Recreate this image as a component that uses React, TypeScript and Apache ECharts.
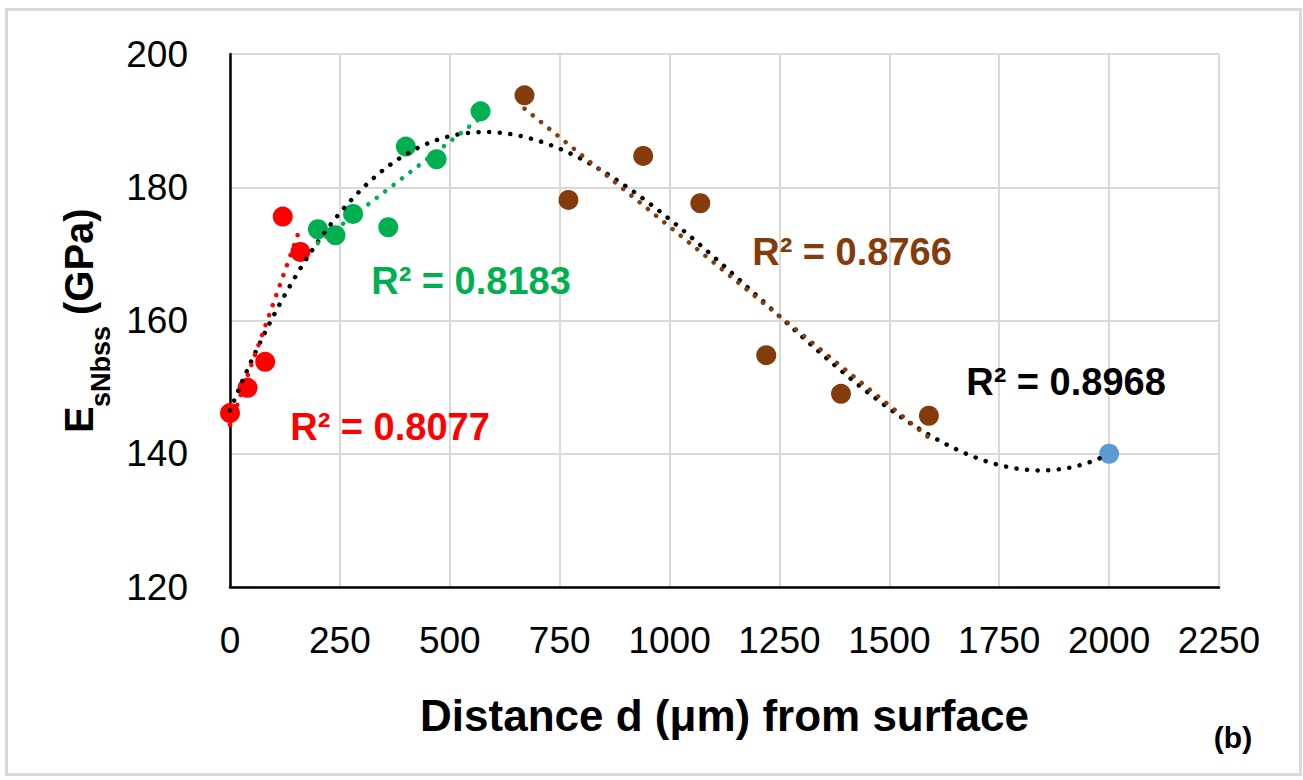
import React, { useEffect, useRef } from "react";
import * as echarts from "echarts";

// Measured elastic modulus vs depth, grouped by zone
const redX = [0, 40, 80, 120, 160];
const redY = [146.1, 149.9, 153.8, 175.6, 170.3];
const greenX = [200, 240, 280, 360, 400, 470, 570];
const greenY = [173.7, 172.8, 176.0, 174.0, 186.1, 184.2, 191.4];
const brownX = [670, 770, 940, 1070, 1220, 1390, 1590];
const brownY = [193.8, 178.1, 184.7, 177.6, 154.8, 149.0, 145.7];
const blueX = [2000];
const blueY = [140.0];

const r2Red = "R² = 0.8077";
const r2Green = "R² = 0.8183";
const r2Brown = "R² = 0.8766";
const r2Black = "R² = 0.8968";

const RED = "#FF0000";
const GREEN = "#00B050";
const BROWN = "#843C0C";
const BLUE = "#5B9BD5";
const FONT = "'Liberation Sans', Arial, sans-serif";

// Least-squares polynomial fit (x scaled to keep the normal equations well conditioned)
function polyfit(xs: number[], ys: number[], order: number) {
  const s = 1000;
  const n = order + 1;
  const A: number[][] = Array.from({ length: n }, () => new Array(n + 1).fill(0));
  for (let k = 0; k < xs.length; k++) {
    const x = xs[k] / s;
    for (let i = 0; i < n; i++) {
      for (let j = 0; j < n; j++) A[i][j] += Math.pow(x, i + j);
      A[i][n] += ys[k] * Math.pow(x, i);
    }
  }
  for (let c = 0; c < n; c++) {
    let p = c;
    for (let r = c + 1; r < n; r++) if (Math.abs(A[r][c]) > Math.abs(A[p][c])) p = r;
    [A[c], A[p]] = [A[p], A[c]];
    for (let r = 0; r < n; r++) {
      if (r === c) continue;
      const f = A[r][c] / A[c][c];
      for (let j = c; j <= n; j++) A[r][j] -= f * A[c][j];
    }
  }
  const coef = A.map((row, i) => row[n] / row[i]);
  return (x: number) => coef.reduce((acc, c, i) => acc + c * Math.pow(x / s, i), 0);
}

function trend(xs: number[], ys: number[], order: number, step: number) {
  const f = polyfit(xs, ys, order);
  const lo = Math.min(...xs);
  const hi = Math.max(...xs);
  const pts: number[][] = [];
  for (let x = lo; x < hi; x += step) pts.push([x, f(x)]);
  pts.push([hi, f(hi)]);
  return pts;
}

const zip = (xs: number[], ys: number[]) => xs.map((x, i) => [x, ys[i]]);

export default function App() {
  const ref = useRef<HTMLDivElement>(null);

  useEffect(() => {
    const chart = echarts.init(ref.current!, null, { renderer: "svg" });

    const allX = [...redX, ...greenX, ...brownX, ...blueX];
    const allY = [...redY, ...greenY, ...brownY, ...blueY];

    const dotted = (color: string) => ({
      color,
      width: 4.5,
      type: [0.1, 10.5],
      cap: "round",
      opacity: 1,
    });

    const scatter = (name: string, xs: number[], ys: number[], color: string) => ({
      name,
      type: "scatter",
      data: zip(xs, ys),
      symbol: "circle",
      symbolSize: 20,
      itemStyle: { color, opacity: 1 },
      z: 2,
    });

    const trendSeries = (name: string, data: number[][], color: string) => ({
      name,
      type: "line",
      data,
      showSymbol: false,
      symbol: "none",
      lineStyle: dotted(color),
      z: 3,
      silent: true,
    });

    const label = (text: string, x: number, y: number, color: string) => ({
      type: "text",
      x,
      y,
      style: {
        text,
        fill: color,
        font: `bold 38px ${FONT}`,
        align: "center",
        verticalAlign: "middle",
      },
      z: 10,
    });

    // Rotated axis title: E with a lowered "s" and "Nbss", then "(GPa)"
    const titlePart = (text: string, u: number, v: number, size: number) => ({
      type: "text",
      x: u,
      y: v,
      style: {
        text,
        fill: "#000",
        font: `bold ${size}px ${FONT}`,
        align: "left",
        verticalAlign: "middle",
      },
    });

    const option = {
      animation: false,
      backgroundColor: "#ffffff",
      grid: { left: 230, right: 84, top: 54, bottom: 193, containLabel: false },
      xAxis: {
        type: "value",
        min: 0,
        max: 2250,
        interval: 250,
        axisLine: { onZero: false, lineStyle: { color: "#000", width: 2.5 } },
        axisTick: { show: false },
        axisLabel: {
          color: "#000",
          fontSize: 37,
          fontFamily: FONT,
          margin: 35,
          lineHeight: 37,
          formatter: (v: number) => String(v),
        },
        splitLine: { show: true, lineStyle: { color: "#D9D9D9", width: 2 } },
      },
      yAxis: {
        type: "value",
        min: 120,
        max: 200,
        interval: 20,
        axisLine: { show: true, onZero: false, lineStyle: { color: "#000", width: 2.5 } },
        axisTick: { show: false },
        axisLabel: {
          color: "#000",
          fontSize: 37,
          fontFamily: FONT,
          margin: 42,
          formatter: (v: number) => String(v),
        },
        splitLine: { show: true, lineStyle: { color: "#D9D9D9", width: 2 } },
      },
      series: [
        scatter("All depths", blueX, blueY, BLUE),
        scatter("Near surface", redX, redY, RED),
        scatter("Intermediate", greenX, greenY, GREEN),
        scatter("Deep", brownX, brownY, BROWN),
        trendSeries("Poly. (All depths)", trend(allX, allY, 3, 10), "#000000"),
        trendSeries("Linear (Near surface)", trend(redX, redY, 1, 160), RED),
        trendSeries("Linear (Intermediate)", trend(greenX, greenY, 1, 370), GREEN),
        trendSeries("Linear (Deep)", trend(brownX, brownY, 1, 920), BROWN),
      ],
      graphic: [
        {
          type: "rect",
          shape: { x: 6.5, y: 9.5, width: 1294, height: 765 },
          style: { fill: "none", stroke: "#D9D9D9", lineWidth: 3 },
          silent: true,
          z: -10,
        },
        label(r2Red, 390, 427, RED),
        label(r2Green, 471, 281, GREEN),
        label(r2Brown, 852, 252, BROWN),
        label(r2Black, 1066, 382, "#000000"),
        {
          type: "text",
          x: 724.5,
          y: 715,
          style: {
            text: "Distance d (μm) from surface",
            fill: "#000",
            font: `bold 44px ${FONT}`,
            align: "center",
            verticalAlign: "middle",
          },
        },
        {
          type: "text",
          x: 1233,
          y: 737,
          style: {
            text: "(b)",
            fill: "#000",
            font: `bold 30px ${FONT}`,
            align: "center",
            verticalAlign: "middle",
          },
        },
        {
          type: "group",
          x: 0,
          y: 433,
          rotation: Math.PI / 2,
          children: [
            titlePart("E", 0, 79, 40),
            titlePart("s", 26, 101, 27),
            titlePart("Nbss", 41, 101, 27),
            titlePart("(GPa)", 118, 79, 40),
          ],
        },
      ],
    };

    chart.setOption(option as any);
    return () => chart.dispose();
  }, []);

  return (
    <div
      ref={ref}
      style={{ position: "fixed", left: 0, top: 0, width: 1303, height: 780, background: "#fff" }}
    />
  );
}
